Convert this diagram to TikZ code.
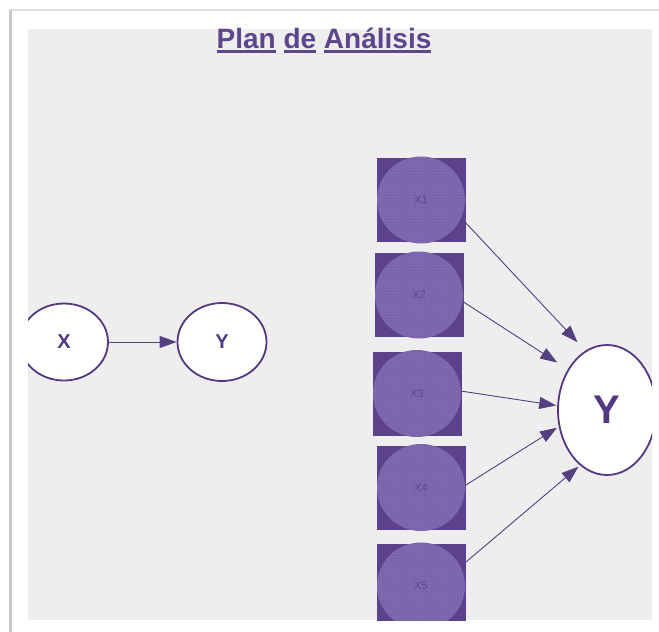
\documentclass[tikz,border=0pt]{standalone}
\usepackage{fontspec}
\setmainfont{Liberation Sans}
\usetikzlibrary{shapes.geometric,arrows.meta,patterns}

\definecolor{panel}{RGB}{238,238,238}
\definecolor{titlep}{RGB}{92,70,140}
\definecolor{edgep}{RGB}{82,56,128}
\definecolor{linep}{RGB}{84,64,128}
\definecolor{sqp}{RGB}{92,66,138}
\definecolor{blobp}{RGB}{124,100,172}
\definecolor{labp}{RGB}{92,72,146}

% underlined word
\newlength\wlen
\newcommand\wline[1]{\settowidth{\wlen}{#1}\rlap{\rule[-4.5pt]{\wlen}{2.2pt}}#1}

\begin{document}
\begin{tikzpicture}[x=1pt,y=-1pt]
\tikzstyle{var} = [ellipse, draw=edgep, line width=1.8pt, fill=white, inner sep=0pt, text=edgep]
\tikzstyle{sq} = [rectangle, fill=sqp, minimum width=89pt, minimum height=84pt, inner sep=0pt]
\tikzstyle{blob} = [ellipse, fill=blobp, postaction={pattern=dots, pattern color=blobp!75!white},
  minimum width=88pt, minimum height=87pt, inner sep=0pt, text=labp, font=\fontsize{11}{11}\selectfont]
\tikzstyle{link} = [draw=linep, line width=0.9pt, -{Triangle[length=17pt,width=12pt]}]

\useasboundingbox (0,0) rectangle (659,632);
% frame shadow
\draw[gray!25, line width=1.5pt] (10,10) -- (659,10);
\draw[gray!45, line width=3pt] (10,632) -- (10,10);
\fill[panel] (28,29) rectangle (652,620);

\node[anchor=base, text=titlep, font=\bfseries\fontsize{28}{30}\selectfont] (title) at (324,48)
  {\wline{Plan} \wline{de} \wline{Análisis}};

\begin{scope}
\clip (28,29) rectangle (652,620);
% simple model
\node[var, minimum width=88pt, minimum height=77pt, font=\bfseries\fontsize{20}{20}\selectfont] (x) at (64,342) {X};
\node[var, minimum width=89pt, minimum height=78pt, font=\bfseries\fontsize{20}{20}\selectfont] (y) at (222,342) {Y};
\draw[link] (x) -- (y);

% multiple model
\node[var, minimum width=98pt, minimum height=130pt, font=\bfseries\fontsize{40}{40}\selectfont] (bigY) at (607,410) {Y};
\foreach \n/\cx/\cy in {1/421/200, 2/419/295, 3/417/393.5, 4/421/487.5, 5/421/586}
{
  \node[sq] (s\n) at (\cx,\cy) {};
  \node[blob] (c\n) at (\cx,\cy) {X\n};
}
\foreach \from/\to/\sh in {s1.-27/bigY.110/11.5, s2.-9/bigY.134/12.5, s3.3/bigY.175/1, s4.3/bigY.-161/2, s5.28/bigY.-116/2}
\draw [link, shorten >=\sh pt] (\from) -- (\to);
\end{scope}

\end{tikzpicture}
\end{document}
